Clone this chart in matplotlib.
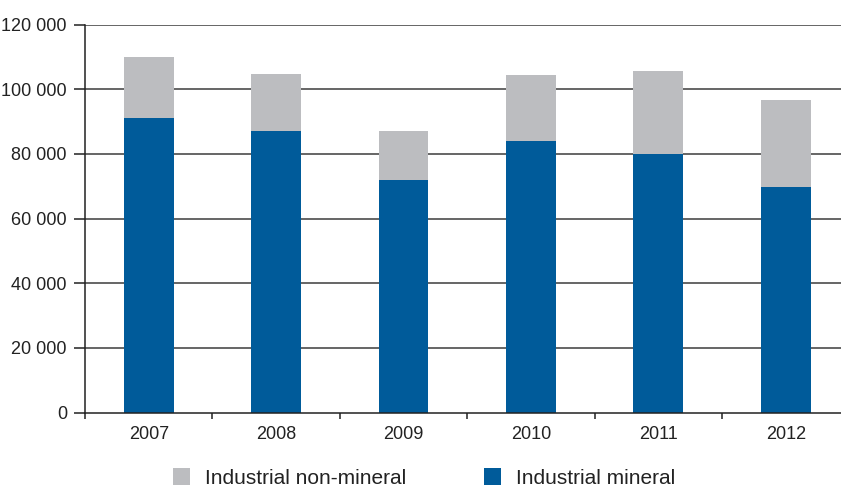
import matplotlib
matplotlib.use("Agg")
import matplotlib.pyplot as plt
from matplotlib.patches import Patch
from matplotlib.ticker import FuncFormatter, FixedLocator
import numpy as np

plt.rcParams['font.family'] = ['Liberation Sans', 'DejaVu Sans']

years = ["2007", "2008", "2009", "2010", "2011", "2012"]
mineral = [91000, 87200, 72000, 84000, 80000, 69900]
non_mineral_total = [110000, 104800, 87100, 104500, 105700, 96700]
non_mineral = [t - m for t, m in zip(non_mineral_total, mineral)]

blue = "#005b9a"
grey = "#bcbdc0"
grid_col = "#3c3c3c"
text_col = "#222222"

fig = plt.figure(figsize=(8.41, 4.87), dpi=100)
W, H = 841, 487
left_px, right_px = 85, 841
top_px, bottom_px = 24.7, 412.5
ax = fig.add_axes([left_px / W, 1 - bottom_px / H,
                   (right_px - left_px) / W, (bottom_px - top_px) / H])

x = np.arange(len(years))
width = 0.39
ax.bar(x, mineral, width, color=blue, zorder=3)
ax.bar(x, non_mineral, width, bottom=mineral, color=grey, zorder=3)

cat_px = 127.4
ax.set_xlim(-0.5, -0.5 + (right_px - left_px) / cat_px)
ax.set_ylim(0, 120000)

yt = np.arange(0, 120001, 20000)
ax.set_yticks(yt)
ax.yaxis.set_major_formatter(FuncFormatter(lambda v, p: f"{int(v):,}".replace(",", " ")))
for v in yt[1:]:
    ax.axhline(v, color=grid_col, lw=1.1, zorder=1)

ax.set_xticks(x)
ax.set_xticklabels(years)
ax.xaxis.set_minor_locator(FixedLocator(np.arange(-0.5, 5.6, 1.0)))
ax.tick_params(axis='x', which='major', length=0, pad=10, labelsize=13, labelcolor=text_col)
ax.tick_params(axis='x', which='minor', length=4, width=1.1, direction='out', color='#222222')
ax.tick_params(axis='y', length=8, width=1.1, direction='out', color='#222222',
               labelsize=13, labelcolor=text_col, pad=5)

for s in ['top', 'right']:
    ax.spines[s].set_visible(False)
ax.spines['left'].set_linewidth(1.1)
ax.spines['left'].set_color('#222222')
ax.spines['bottom'].set_linewidth(1.1)
ax.spines['bottom'].set_color('#222222')
ax.spines['bottom'].set_zorder(4)

handles = [Patch(facecolor=grey, edgecolor='none'), Patch(facecolor=blue, edgecolor='none')]
fig.legend(handles, ["Industrial non-mineral", "Industrial mineral"], ncol=2,
           loc='center', bbox_to_anchor=(424 / W, 1 - 478 / H), frameon=False,
           fontsize=15, handlelength=0.82, handleheight=0.82, handletextpad=0.75,
           columnspacing=3.7, labelcolor=text_col, borderpad=0, borderaxespad=0)

fig.savefig("out.png", dpi=100)
